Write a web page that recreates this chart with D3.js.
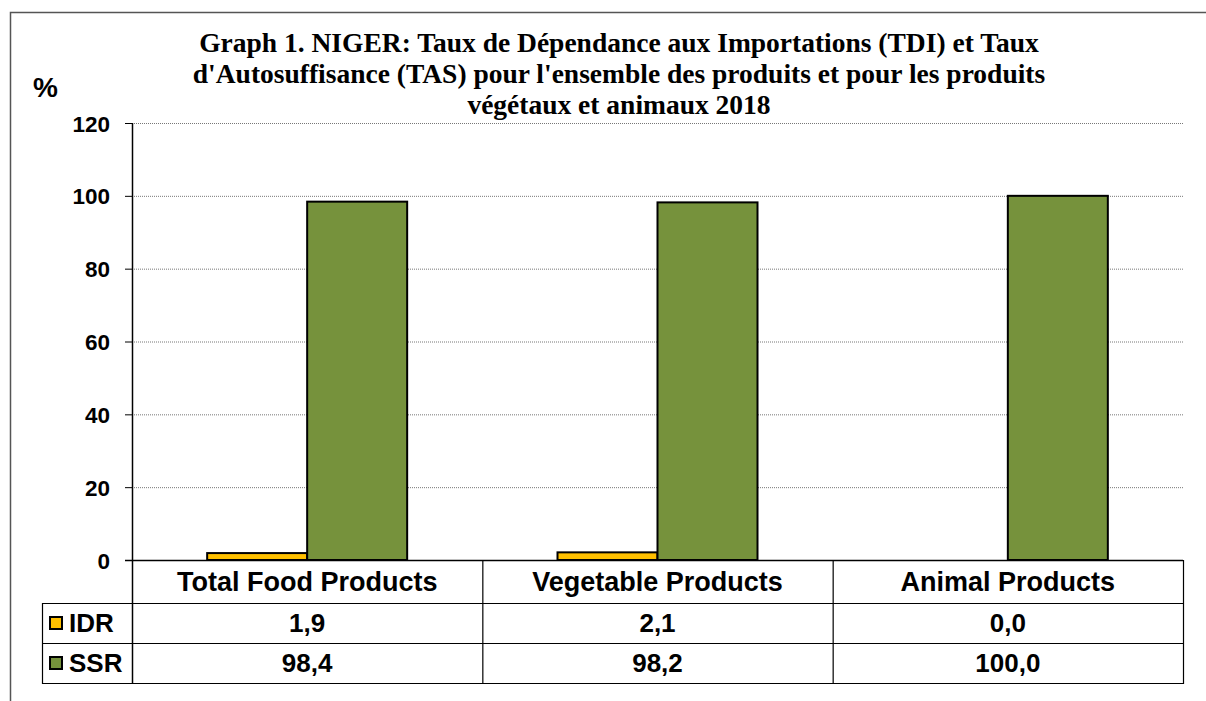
<!DOCTYPE html>
<html>
<head>
<meta charset="utf-8">
<script src="https://cdn.jsdelivr.net/npm/d3@7"></script>
<style>
  body { margin: 0; background: #fff; }
  svg { display: block; }
</style>
</head>
<body>
<div id="chart"></div>
<script>
// data
let categories = ["Total Food Products", "Vegetable Products", "Animal Products"];
let seriesNames = ["IDR", "SSR"];
let idrValues = [1.9, 2.1, 0.0];
let ssrValues = [98.4, 98.2, 100.0];
let yTicks = [0, 20, 40, 60, 80, 100, 120];
let titleLines = [
    "Graph 1. NIGER: Taux de Dépendance aux Importations (TDI) et Taux",
    "d'Autosuffisance (TAS) pour l'ensemble des produits et pour les produits",
    "végétaux et animaux 2018"
];

let width = 1206;
let height = 701;
let plot = { left: 132, right: 1183, top: 123, bottom: 560 };
let rowH = 40;
let tableLeft = 42;
let colors = { IDR: "#FFC000", SSR: "#76923C" };
let sans = "'Liberation Sans', Arial, sans-serif";

let svg = d3.select("#chart").append("svg")
    .attr("width", width)
    .attr("height", height);

// outer frame (right/bottom edges fall outside the picture)
svg.append("rect")
    .attr("x", 10.5).attr("y", 12.5)
    .attr("width", width + 20).attr("height", height + 20)
    .attr("fill", "none").attr("stroke", "#555").attr("stroke-width", 1.5);

// scales
let x = d3.scaleBand().domain(categories).range([plot.left, plot.right]);
let y = d3.scaleLinear().domain([0, 120]).range([plot.bottom, plot.top]);
let barW = 100;
let xs = d3.scaleBand().domain(seriesNames)
    .range([x.bandwidth() / 2 - barW, x.bandwidth() / 2 + barW]);

// gridlines
svg.append("g").selectAll("line").data(yTicks.filter(d => d > 0)).join("line")
    .attr("x1", plot.left).attr("x2", plot.right)
    .attr("y1", d => y(d) + 0.5).attr("y2", d => y(d) + 0.5)
    .attr("stroke", "#777").attr("stroke-width", 1).attr("stroke-dasharray", "1,1");

// y axis
let yAxis = d3.axisLeft(y).tickValues(yTicks).tickSize(7).tickPadding(15);
let gy = svg.append("g").attr("transform", `translate(${plot.left},0)`).call(yAxis);
gy.select(".domain").remove();
gy.selectAll("line").attr("stroke", "#000");
gy.selectAll("text").attr("font-family", sans).attr("font-weight", "bold")
    .attr("font-size", 22.5).attr("fill", "#000").attr("dy", "0.36em");

// bars
let series = [
    { name: "IDR", values: idrValues },
    { name: "SSR", values: ssrValues }
];
let gBars = svg.append("g");
series.forEach(s => {
    gBars.append("g").selectAll("rect").data(s.values).join("rect")
        .attr("x", (d, i) => x(categories[i]) + xs(s.name))
        .attr("y", d => y(d))
        .attr("width", xs.bandwidth())
        .attr("height", d => y(0) - y(d))
        .attr("fill", colors[s.name])
        .attr("stroke", "#000").attr("stroke-width", 2);
});

// axis lines
svg.append("line")
    .attr("x1", plot.left + 0.5).attr("x2", plot.left + 0.5)
    .attr("y1", plot.top).attr("y2", plot.bottom + 43 + rowH * 2 + 1)
    .attr("stroke", "#000").attr("stroke-width", 1.5);
svg.append("line")
    .attr("x1", plot.left - 7).attr("x2", plot.right)
    .attr("y1", plot.bottom + 0.5).attr("y2", plot.bottom + 0.5)
    .attr("stroke", "#000").attr("stroke-width", 1.5);

// data table
let tableBottom = plot.bottom + 43 + rowH * 2;
let rowTop = [plot.bottom + 43, plot.bottom + 43 + rowH];
let gT = svg.append("g");
rowTop.concat([tableBottom]).forEach(ry => {
    gT.append("line")
        .attr("x1", tableLeft).attr("x2", plot.right)
        .attr("y1", ry + 0.5).attr("y2", ry + 0.5)
        .attr("stroke", "#000").attr("stroke-width", 1.2);
});
gT.append("line")
    .attr("x1", tableLeft + 0.5).attr("x2", tableLeft + 0.5)
    .attr("y1", rowTop[0]).attr("y2", tableBottom + 1)
    .attr("stroke", "#000").attr("stroke-width", 1.2);
categories.forEach(c => {
    let x1 = x(c) + x.bandwidth();
    gT.append("line")
        .attr("x1", x1 + 0.5).attr("x2", x1 + 0.5)
        .attr("y1", plot.bottom).attr("y2", tableBottom + 1)
        .attr("stroke", "#000").attr("stroke-width", 1.2);
});

// category labels
gT.selectAll("text.cat").data(categories).join("text")
    .attr("class", "cat")
    .attr("x", d => x(d) + x.bandwidth() / 2)
    .attr("y", plot.bottom + 31)
    .attr("text-anchor", "middle")
    .attr("font-family", sans).attr("font-weight", "bold").attr("font-size", 27)
    .text(d => d);

let fmt = v => d3.format(".1f")(v).replace(".", ",");
series.forEach((s, r) => {
    let cy = rowTop[r] + rowH / 2;
    gT.append("rect")
        .attr("x", 50).attr("y", cy - 6)
        .attr("width", 12).attr("height", 12)
        .attr("fill", colors[s.name]).attr("stroke", "#000").attr("stroke-width", 2);
    gT.append("text")
        .attr("x", 69).attr("y", cy).attr("dy", "0.36em")
        .attr("font-family", sans).attr("font-weight", "bold").attr("font-size", 26)
        .text(s.name);
    gT.append("g").selectAll("text").data(s.values).join("text")
        .attr("x", (d, i) => x(categories[i]) + x.bandwidth() / 2)
        .attr("y", cy).attr("dy", "0.36em")
        .attr("text-anchor", "middle")
        .attr("font-family", sans).attr("font-weight", "bold").attr("font-size", 26)
        .text(d => fmt(d));
});

// "%" label
svg.append("text")
    .attr("x", 33).attr("y", 97)
    .attr("font-family", sans).attr("font-weight", "bold").attr("font-size", 28)
    .text("%");

// title
svg.append("g").selectAll("text").data(titleLines).join("text")
    .attr("x", 619)
    .attr("y", (d, i) => 52 + i * 31)
    .attr("text-anchor", "middle")
    .attr("font-family", "'Liberation Serif', 'Times New Roman', serif")
    .attr("font-weight", "bold").attr("font-size", 27.5)
    .text(d => d);
</script>
</body>
</html>
